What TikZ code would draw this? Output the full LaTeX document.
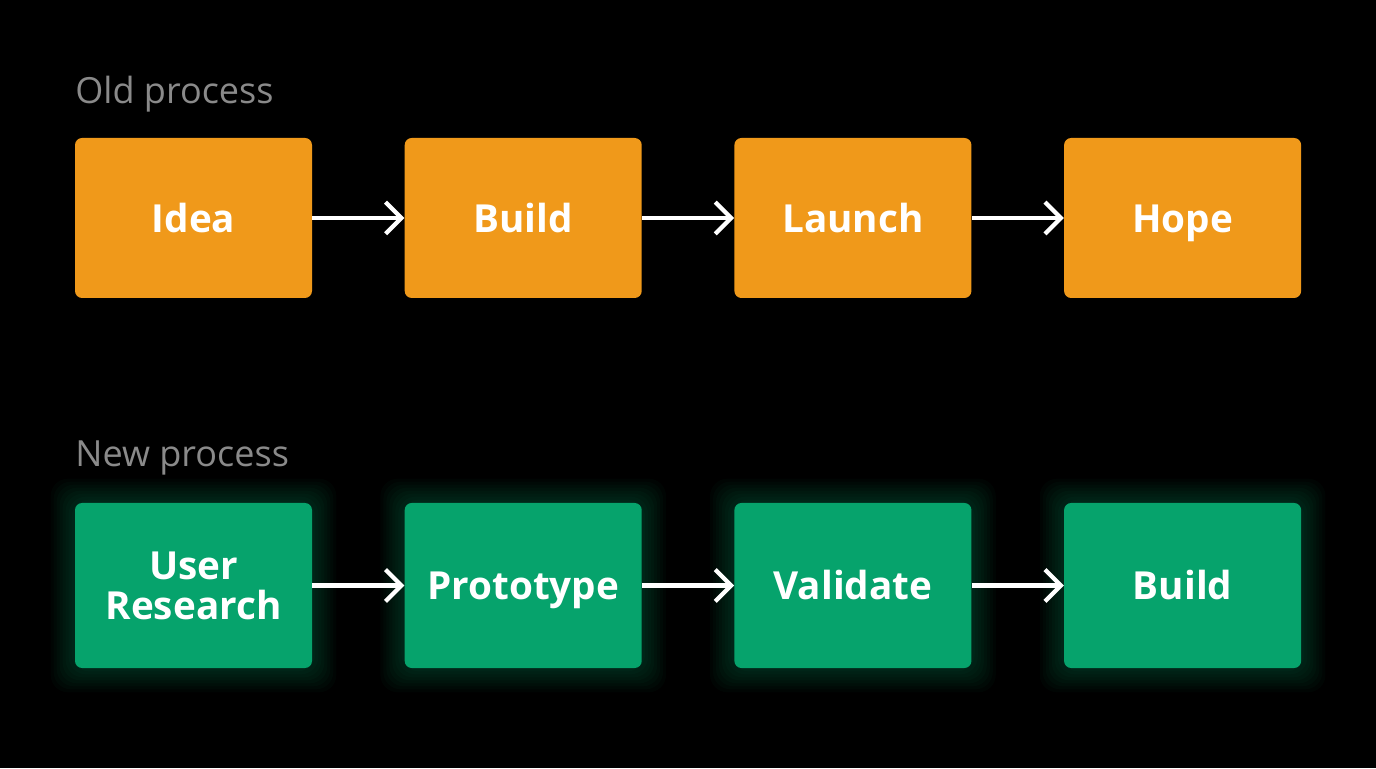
\documentclass[tikz,border=0pt]{standalone}
\usepackage{fontspec}
\setmainfont{Open Sans}
\usetikzlibrary{positioning,arrows.meta}
\definecolor{oldc}{HTML}{F0991A}
\definecolor{newc}{HTML}{06A36C}
\definecolor{capc}{HTML}{8A8A8A}
\pgfdeclarelayer{glow}
\pgfsetlayers{glow,main}
\begin{document}
\begin{tikzpicture}[
    node distance=1.84cm,
    stage/.style={rectangle, rounded corners=4pt, text=white, font=\fontsize{22}{24}\selectfont\bfseries, align=center, minimum width=4.74cm, inner sep=0pt, text height=16pt, text depth=0pt},
    oldstage/.style={stage, fill=oldc, minimum height=3.2cm},
    newstage/.style={stage, fill=newc, minimum height=3.3cm},
    caption/.style={text=capc, font=\fontsize{20.5}{24}\selectfont, anchor=base west, inner sep=0pt},
    line/.style={draw=white, line width=2.4pt, -{Straight Barb[length=9pt,width=18pt]}}
]
\begin{pgfonlayer}{glow}
\fill[black] (0,0) rectangle (27.52,15.36);
\end{pgfonlayer}
\useasboundingbox (0,0) rectangle (27.52,15.36);

% Old process
\node [caption] (oldlbl) at (1.5,13.28) {Old process};
\node [oldstage] (idea) at (3.87,11.0) {Idea};
\node [oldstage, right=of idea] (build) {Build};
\node [oldstage, right=of build] (launch) {Launch};
\node [oldstage, right=of launch] (hope) {Hope};

% New process
\node [caption] (newlbl) at (1.5,6.02) {New process};
\node [newstage, text height=] (research) at (3.87,3.65) {User\\[-1pt]Research};
\node [newstage, right=of research] (proto) {Prototype};
\node [newstage, right=of proto] (valid) {Validate};
\node [newstage, right=of valid] (build2) {Build};

% Glow
\begin{pgfonlayer}{glow}
\foreach \n in {research,proto,valid,build2}{
  \foreach \g in {0.48,0.42,...,0.02}{
    \fill[newc, opacity=0.035, rounded corners=10pt] ([shift={(-\g,-\g)}]\n.south west) rectangle ([shift={(\g,\g)}]\n.north east);
  }
}
\end{pgfonlayer}

% Connections
\path [line] (idea) -- (build);
\path [line] (build) -- (launch);
\path [line] (launch) -- (hope);
\path [line] (research) -- (proto);
\path [line] (proto) -- (valid);
\path [line] (valid) -- (build2);
\end{tikzpicture}
\end{document}
